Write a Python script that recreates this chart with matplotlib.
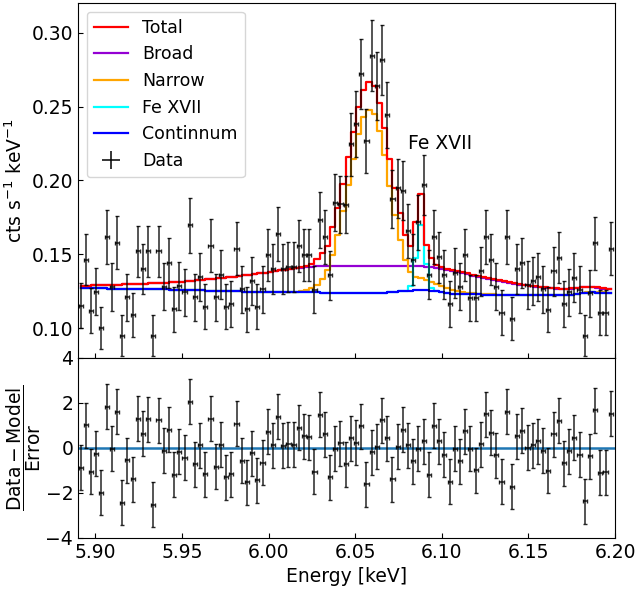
import numpy as np
import matplotlib
matplotlib.use("Agg")
import matplotlib.pyplot as plt
from matplotlib.lines import Line2D

# energy bin centres [keV]
energy = [
    5.8915, 5.8945, 5.8975, 5.9005, 5.9035, 5.9065, 5.9095, 5.9125, 5.9155, 5.9185,
    5.9215, 5.9245, 5.9275, 5.9305, 5.9335, 5.9365, 5.9395, 5.9425, 5.9455, 5.9485,
    5.9515, 5.9545, 5.9575, 5.9605, 5.9635, 5.9665, 5.9695, 5.9725, 5.9755, 5.9785,
    5.9815, 5.9845, 5.9875, 5.9905, 5.9935, 5.9965, 5.9995, 6.0025, 6.0055, 6.0085,
    6.0115, 6.0145, 6.0175, 6.0205, 6.0235, 6.0265, 6.0295, 6.0325, 6.0355, 6.0385,
    6.0415, 6.0445, 6.0475, 6.0505, 6.0535, 6.0565, 6.0595, 6.0625, 6.0655, 6.0685,
    6.0715, 6.0745, 6.0775, 6.0805, 6.0835, 6.0865, 6.0895, 6.0925, 6.0955, 6.0985,
    6.1015, 6.1045, 6.1075, 6.1105, 6.1135, 6.1165, 6.1195, 6.1225, 6.1255, 6.1285,
    6.1315, 6.1345, 6.1375, 6.1405, 6.1435, 6.1465, 6.1495, 6.1525, 6.1555, 6.1585,
    6.1615, 6.1645, 6.1675, 6.1705, 6.1735, 6.1765, 6.1795, 6.1825, 6.1855, 6.1885,
    6.1915, 6.1945, 6.1975,
]

data = [
    0.1153, 0.1464, 0.1121, 0.1247, 0.1002, 0.1617, 0.1279, 0.1578, 0.0950, 0.1209,
    0.1090, 0.1520, 0.1405, 0.1520, 0.0950, 0.1520, 0.1283, 0.1443, 0.1128, 0.1288,
    0.1243, 0.1698, 0.1209, 0.1347, 0.1148, 0.1560, 0.1209, 0.1362, 0.1148, 0.1166,
    0.1540, 0.1265, 0.1128, 0.1322, 0.1148, 0.1265, 0.1497, 0.1400, 0.1637, 0.1400,
    0.1418, 0.1418, 0.1558, 0.1497, 0.1497, 0.1261, 0.1734, 0.1617, 0.1360, 0.1851,
    0.1840, 0.1835, 0.2246, 0.2382, 0.2720, 0.2268, 0.2842, 0.2639, 0.2815, 0.2443,
    0.1873, 0.1948, 0.1932, 0.1658, 0.1464, 0.1718, 0.1970, 0.1362, 0.1617, 0.1480,
    0.1362, 0.1166, 0.1374, 0.1283, 0.1497, 0.1205, 0.1205, 0.1385, 0.1617, 0.1464,
    0.1283, 0.1107, 0.1617, 0.1067, 0.1403, 0.1441, 0.1295, 0.1322, 0.1347, 0.1265,
    0.1126, 0.1385, 0.1479, 0.1166, 0.1243, 0.1344, 0.1261, 0.0950, 0.1238, 0.1576,
    0.1107, 0.1107, 0.1540,
]

data_err = [
    0.0153, 0.0172, 0.0151, 0.0159, 0.0142, 0.0181, 0.0161, 0.0179, 0.0139, 0.0156,
    0.0149, 0.0175, 0.0169, 0.0175, 0.0139, 0.0175, 0.0161, 0.0171, 0.0151, 0.0162,
    0.0159, 0.0185, 0.0156, 0.0165, 0.0152, 0.0178, 0.0156, 0.0166, 0.0152, 0.0154,
    0.0177, 0.0160, 0.0151, 0.0164, 0.0152, 0.0160, 0.0174, 0.0168, 0.0182, 0.0168,
    0.0169, 0.0169, 0.0178, 0.0174, 0.0174, 0.0160, 0.0187, 0.0181, 0.0166, 0.0194,
    0.0193, 0.0193, 0.0213, 0.0220, 0.0235, 0.0214, 0.0240, 0.0231, 0.0239, 0.0222,
    0.0195, 0.0199, 0.0198, 0.0183, 0.0172, 0.0187, 0.0200, 0.0166, 0.0181, 0.0173,
    0.0166, 0.0154, 0.0167, 0.0161, 0.0174, 0.0156, 0.0156, 0.0167, 0.0181, 0.0172,
    0.0161, 0.0150, 0.0181, 0.0147, 0.0169, 0.0171, 0.0162, 0.0164, 0.0165, 0.0160,
    0.0151, 0.0167, 0.0173, 0.0154, 0.0159, 0.0165, 0.0160, 0.0139, 0.0158, 0.0179,
    0.0150, 0.0150, 0.0177,
]

# (Data - Model) / Error
resid = [
    -0.87, 1.02, -1.05, -0.25, -1.98, 1.84, -0.03, 1.62, -2.44, -0.55,
    -1.38, 1.29, 0.64, 1.27, -2.52, 1.24, -0.12, 0.80, -1.20, -0.16,
    -0.43, 2.06, -0.73, 0.12, -1.17, 1.29, -0.83, 0.15, -1.29, -1.16,
    1.07, -0.56, -1.53, -0.24, -1.44, -0.65, 0.73, 0.13, 1.39, 0.10,
    0.16, 0.15, 0.90, 0.53, 0.48, -1.05, 1.47, 0.61, -1.30, -0.04,
    0.21, -0.73, 0.43, 0.24, 0.96, -1.61, -0.19, 0.06, 1.23, 0.43,
    -1.39, 0.06, 0.81, 0.12, -0.58, -0.03, 0.30, -1.20, 0.98, 0.31,
    -0.30, -1.51, -0.04, -0.58, 0.74, -0.03, -0.98, 0.16, 1.50, 0.68,
    -0.33, -1.50, 1.61, -1.72, 0.53, 0.77, 0.00, 0.13, 0.30, -0.13,
    -1.02, 0.62, 1.20, -0.67, -0.15, 0.46, -0.30, -2.37, -0.36, 1.67,
    -1.10, -1.08, 1.53,
]

model_total = [
    0.1288, 0.1289, 0.1290, 0.1291, 0.1292, 0.1293, 0.1294, 0.1295, 0.1296, 0.1297,
    0.1298, 0.1299, 0.1300, 0.1302, 0.1304, 0.1306, 0.1308, 0.1310, 0.1312, 0.1314,
    0.1317, 0.1320, 0.1323, 0.1326, 0.1329, 0.1332, 0.1335, 0.1338, 0.1342, 0.1346,
    0.1350, 0.1354, 0.1358, 0.1363, 0.1368, 0.1373, 0.1378, 0.1383, 0.1388, 0.1393,
    0.1398, 0.1402, 0.1406, 0.1412, 0.1423, 0.1434, 0.1468, 0.1508, 0.1560, 0.1684,
    0.1813, 0.1977, 0.2162, 0.2330, 0.2495, 0.2612, 0.2668, 0.2639, 0.2523, 0.2355,
    0.2144, 0.1952, 0.1779, 0.1632, 0.1558, 0.1722, 0.1909, 0.1565, 0.1475, 0.1430,
    0.1413, 0.1404, 0.1396, 0.1388, 0.1380, 0.1372, 0.1364, 0.1356, 0.1349, 0.1342,
    0.1335, 0.1328, 0.1321, 0.1314, 0.1307, 0.1301, 0.1295, 0.1290, 0.1285, 0.1281,
    0.1277, 0.1274, 0.1271, 0.1269, 0.1268, 0.1270, 0.1275, 0.1281, 0.1283, 0.1281,
    0.1277, 0.1272, 0.1268,
]

model_broad = [
    0.1288, 0.1289, 0.1290, 0.1291, 0.1292, 0.1293, 0.1294, 0.1295, 0.1296, 0.1297,
    0.1298, 0.1299, 0.1300, 0.1302, 0.1304, 0.1306, 0.1308, 0.1310, 0.1312, 0.1314,
    0.1317, 0.1320, 0.1323, 0.1326, 0.1329, 0.1332, 0.1335, 0.1338, 0.1342, 0.1346,
    0.1350, 0.1354, 0.1358, 0.1363, 0.1368, 0.1373, 0.1378, 0.1383, 0.1388, 0.1393,
    0.1398, 0.1402, 0.1406, 0.1410, 0.1416, 0.1418, 0.1419, 0.1420, 0.1421, 0.1422,
    0.1423, 0.1424, 0.1424, 0.1425, 0.1425, 0.1425, 0.1425, 0.1425, 0.1425, 0.1425,
    0.1425, 0.1425, 0.1425, 0.1425, 0.1424, 0.1423, 0.1421, 0.1418, 0.1413, 0.1408,
    0.1405, 0.1397, 0.1389, 0.1381, 0.1373, 0.1365, 0.1357, 0.1349, 0.1342, 0.1335,
    0.1328, 0.1322, 0.1315, 0.1309, 0.1302, 0.1296, 0.1291, 0.1286, 0.1281, 0.1277,
    0.1274, 0.1271, 0.1268, 0.1266, 0.1265, 0.1267, 0.1272, 0.1278, 0.1280, 0.1278,
    0.1274, 0.1269, 0.1265,
]

model_narrow = [
    0.1272, 0.1272, 0.1271, 0.1271, 0.1270, 0.1270, 0.1269, 0.1269, 0.1268, 0.1268,
    0.1267, 0.1267, 0.1266, 0.1266, 0.1265, 0.1265, 0.1264, 0.1264, 0.1263, 0.1262,
    0.1261, 0.1260, 0.1259, 0.1258, 0.1257, 0.1256, 0.1255, 0.1254, 0.1253, 0.1252,
    0.1251, 0.1250, 0.1249, 0.1249, 0.1248, 0.1248, 0.1247, 0.1247, 0.1246, 0.1246,
    0.1246, 0.1246, 0.1247, 0.1250, 0.1261, 0.1276, 0.1292, 0.1333, 0.1392, 0.1497,
    0.1632, 0.1797, 0.1970, 0.2144, 0.2315, 0.2428, 0.2477, 0.2450, 0.2335, 0.2173,
    0.1966, 0.1770, 0.1600, 0.1460, 0.1380, 0.1350, 0.1340, 0.1330, 0.1316, 0.1300,
    0.1285, 0.1270, 0.1260, 0.1252, 0.1246, 0.1242, 0.1238, 0.1235, 0.1233, 0.1231,
    0.1230, 0.1229, 0.1228, 0.1228, 0.1227, 0.1227, 0.1226, 0.1226, 0.1226, 0.1225,
    0.1225, 0.1225, 0.1225, 0.1225, 0.1226, 0.1228, 0.1232, 0.1239, 0.1244, 0.1245,
    0.1244, 0.1243, 0.1242,
]

model_fe17 = [
    0.1272, 0.1272, 0.1271, 0.1271, 0.1270, 0.1270, 0.1269, 0.1269, 0.1268, 0.1268,
    0.1267, 0.1267, 0.1266, 0.1266, 0.1265, 0.1265, 0.1264, 0.1264, 0.1263, 0.1262,
    0.1261, 0.1260, 0.1259, 0.1258, 0.1257, 0.1256, 0.1255, 0.1254, 0.1253, 0.1252,
    0.1251, 0.1250, 0.1249, 0.1249, 0.1248, 0.1248, 0.1247, 0.1247, 0.1246, 0.1246,
    0.1245, 0.1245, 0.1245, 0.1244, 0.1244, 0.1243, 0.1243, 0.1242, 0.1242, 0.1241,
    0.1240, 0.1240, 0.1239, 0.1239, 0.1238, 0.1238, 0.1238, 0.1239, 0.1240, 0.1242,
    0.1245, 0.1248, 0.1251, 0.1254, 0.1285, 0.1479, 0.1700, 0.1436, 0.1270, 0.1252,
    0.1246, 0.1240, 0.1236, 0.1234, 0.1233, 0.1232, 0.1231, 0.1230, 0.1229, 0.1228,
    0.1228, 0.1227, 0.1226, 0.1226, 0.1225, 0.1225, 0.1224, 0.1224, 0.1224, 0.1223,
    0.1223, 0.1223, 0.1223, 0.1223, 0.1224, 0.1226, 0.1230, 0.1237, 0.1242, 0.1243,
    0.1242, 0.1241, 0.1240,
]

model_cont = [
    0.1272, 0.1272, 0.1271, 0.1271, 0.1270, 0.1270, 0.1269, 0.1269, 0.1268, 0.1268,
    0.1267, 0.1267, 0.1266, 0.1266, 0.1265, 0.1265, 0.1264, 0.1264, 0.1263, 0.1262,
    0.1261, 0.1260, 0.1259, 0.1258, 0.1257, 0.1256, 0.1255, 0.1254, 0.1253, 0.1252,
    0.1251, 0.1250, 0.1249, 0.1249, 0.1248, 0.1248, 0.1247, 0.1247, 0.1246, 0.1246,
    0.1245, 0.1245, 0.1245, 0.1244, 0.1244, 0.1243, 0.1243, 0.1242, 0.1242, 0.1241,
    0.1240, 0.1240, 0.1239, 0.1239, 0.1238, 0.1238, 0.1238, 0.1239, 0.1240, 0.1242,
    0.1245, 0.1248, 0.1251, 0.1253, 0.1255, 0.1257, 0.1258, 0.1258, 0.1256, 0.1252,
    0.1246, 0.1240, 0.1236, 0.1234, 0.1233, 0.1232, 0.1231, 0.1230, 0.1229, 0.1228,
    0.1228, 0.1227, 0.1226, 0.1226, 0.1225, 0.1225, 0.1224, 0.1224, 0.1224, 0.1223,
    0.1223, 0.1223, 0.1223, 0.1223, 0.1224, 0.1226, 0.1230, 0.1237, 0.1242, 0.1243,
    0.1242, 0.1241, 0.1240,
]

E_HALF = 0.0012  # half bin width drawn as x error

plt.rcParams["font.size"] = 13.5

fig = plt.figure(figsize=(6.38, 5.89), dpi=100)
ax = fig.add_axes([0.1223, 0.3922, 0.8417, 0.6027])
axr = fig.add_axes([0.1223, 0.0866, 0.8417, 0.3056], sharex=ax)

lw = 1.6
ax.step(energy, model_broad, color="darkviolet", lw=lw, zorder=2)
ax.step(energy, model_narrow, color="orange", lw=lw, zorder=3)
ax.step(energy, model_fe17, color="cyan", lw=lw, zorder=4)
ax.step(energy, model_cont, color="blue", lw=lw, zorder=5)
ax.step(energy, model_total, color="red", lw=lw, zorder=6)
ax.errorbar(energy, data, yerr=data_err, xerr=E_HALF, fmt="none", ecolor="black",
            elinewidth=1.1, capsize=1.2, alpha=0.85, zorder=7)
ax.text(6.0805, 0.225, "Fe XVII", va="center", ha="left")

ax.set_xlim(5.89, 6.20)
ax.set_ylim(0.08, 0.32)
ax.set_yticks([0.10, 0.15, 0.20, 0.25, 0.30])
ax.set_ylabel(r"cts s$^{-1}$ keV$^{-1}$")
ax.tick_params(direction="in", labelbottom=False)

handles = [
    Line2D([], [], color="red", lw=lw),
    Line2D([], [], color="darkviolet", lw=lw),
    Line2D([], [], color="orange", lw=lw),
    Line2D([], [], color="cyan", lw=lw),
    Line2D([], [], color="blue", lw=lw),
]
eb = ax.errorbar([], [], yerr=[], xerr=[], fmt="none", ecolor="black", elinewidth=1.1)
handles.append(eb)
labels = ["Total", "Broad", "Narrow", "Fe XVII", "Continnum", "Data"]
ax.legend(handles, labels, loc="upper left", fontsize=12.5)

axr.errorbar(energy, resid, yerr=1, xerr=E_HALF, fmt="none", ecolor="black",
             elinewidth=1.1, capsize=1.2, alpha=0.85, zorder=3)
axr.axhline(0, color="tab:blue", lw=1.8, zorder=2)
axr.set_ylim(-4, 4)
axr.set_yticks([-4, -2, 0, 2, 4])
axr.set_xticks([5.90, 5.95, 6.00, 6.05, 6.10, 6.15, 6.20])
axr.set_xlabel("Energy [keV]")
axr.set_ylabel(r"$\dfrac{\rm Data - Model}{\rm Error}$", labelpad=2)
axr.tick_params(direction="in")

fig.savefig("out.png", dpi=100)
